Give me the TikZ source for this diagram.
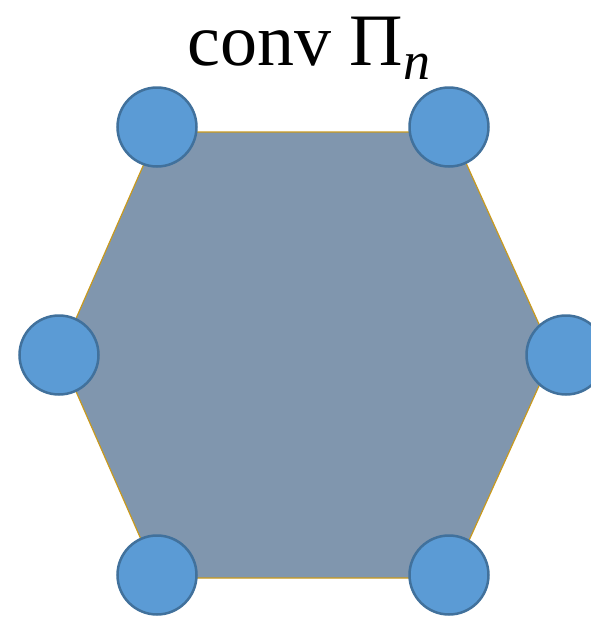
\documentclass[tikz,border=0pt]{standalone}
\usepackage{fontspec}
\setmainfont{Liberation Serif}
\usepackage{xcolor}
\usepackage{tikz}
\definecolor{chex}{HTML}{8096AE}
\definecolor{cborde}{HTML}{C99A1E}
\definecolor{cvert}{HTML}{5B9BD5}
\definecolor{cvertb}{HTML}{41719C}

\begin{document}
\begin{tikzpicture}[x=1pt,y=-1pt,
  vert/.style={circle,fill=cvert,draw=cvertb,line width=2.5pt,minimum size=79pt,inner sep=0pt}]
  \useasboundingbox (0,0) rectangle (590,619);
  % hexagon
  \coordinate (h1) at (158,132);
  \coordinate (h2) at (452,132);
  \coordinate (h3) at (553,355);
  \coordinate (h4) at (452,578);
  \coordinate (h5) at (158,578);
  \coordinate (h6) at (60,355);
  \filldraw[fill=chex, draw=cborde, line width=1.2pt] (h1) -- (h2) -- (h3) -- (h4) -- (h5) -- (h6) -- cycle;
  % vertices
  \node[vert] (v1) at (157,127) {};
  \node[vert] (v2) at (449,127) {};
  \node[vert] (v3) at (566,355) {};
  \node[vert] (v4) at (449,575) {};
  \node[vert] (v5) at (157,575) {};
  \node[vert] (v6) at (59,355) {};
  \node[anchor=base,font=\fontsize{74}{88}\selectfont] (titulo) at (309,65)
    {conv Π\raisebox{-0.2em}{\fontsize{54}{62}\selectfont\itshape n}};
\end{tikzpicture}
\end{document}
